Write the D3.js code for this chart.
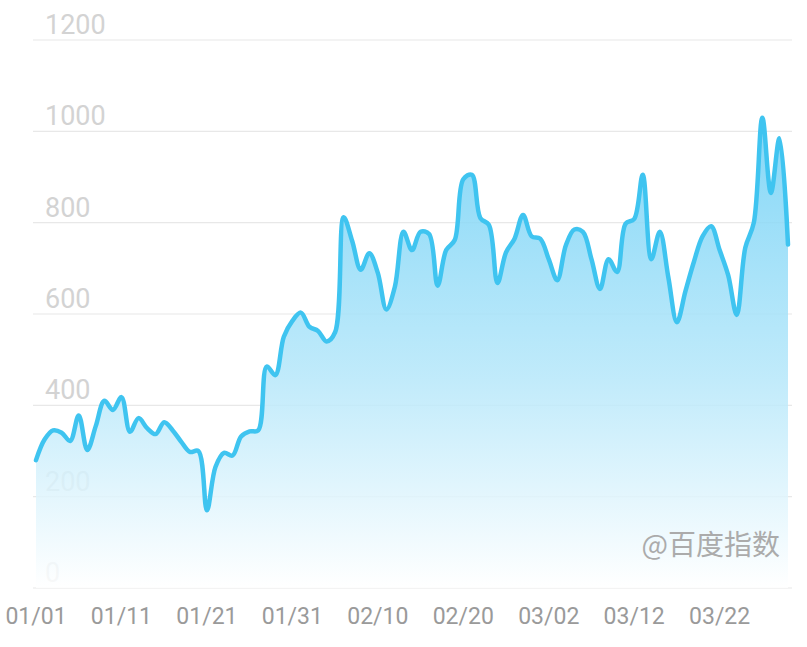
<!DOCTYPE html>
<html>
<head>
<meta charset="utf-8">
<script src="https://cdn.jsdelivr.net/npm/d3@7"></script>
<style>
  body { margin: 0; background: #fff; }
  svg { display: block; font-family: Roboto, "Noto Sans", sans-serif; }
</style>
</head>
<body>
<div id="main"></div>
<script>
const width = 807, height = 647;

// data: one value per day, 01/01 .. 03/30
const startDate = new Date(2021, 0, 1);
const values = [
  280, 325, 345, 340, 322, 378, 302, 355, 410, 390,
  418, 342, 372, 350, 337, 363, 345, 320, 298, 300,
  170, 265, 296, 290, 332, 343, 345, 485, 466, 550,
  585, 603, 572, 563, 540, 560, 812, 760, 697, 733,
  690, 610, 660, 780, 740, 780, 775, 662, 740, 762,
  895, 905, 810, 795, 668, 735, 765, 817, 770, 765,
  720, 674, 750, 785, 780, 720, 655, 720, 692, 798,
  808, 905, 720, 780, 680, 582, 650, 715, 770, 792,
  740, 685, 598, 745, 800, 1030, 865, 985, 752
];
const yTicks = [0, 200, 400, 600, 800, 1000, 1200];
const xTickLabels = ["01/01", "01/11", "01/21", "01/31", "02/10", "02/20", "03/02", "03/12", "03/22"];

const data = values.map((v, i) => ({ date: d3.timeDay.offset(startDate, i), value: v }));

const x = d3.scaleTime()
  .domain([startDate, d3.timeDay.offset(startDate, values.length - 1)])
  .range([36, 788]);
const y = d3.scaleLinear().domain([0, 1200]).range([588, 40]);

const svg = d3.select("#main").append("svg")
  .attr("width", width)
  .attr("height", height);

const defs = svg.append("defs");
const grad = defs.append("linearGradient")
  .attr("id", "areaGrad")
  .attr("x1", 0).attr("y1", 0).attr("x2", 0).attr("y2", 1);
grad.append("stop").attr("offset", "0%").attr("stop-color", "#6fd0f5");
grad.append("stop").attr("offset", "55%").attr("stop-color", "#b5e7fa");
grad.append("stop").attr("offset", "100%").attr("stop-color", "#ffffff");

// grid lines
svg.append("g").selectAll("line")
  .data(yTicks)
  .join("line")
  .attr("x1", 33).attr("x2", 792)
  .attr("y1", d => y(d)).attr("y2", d => y(d))
  .attr("stroke", "#e8e8e8")
  .attr("stroke-width", 1.2);

// y labels
svg.append("g").selectAll("text")
  .data(yTicks)
  .join("text")
  .attr("x", 45)
  .attr("y", d => y(d) - 6)
  .attr("fill", "#d3d3d3")
  .attr("font-size", 27)
  .text(d => d);

// area + line
const area = d3.area()
  .x(d => x(d.date))
  .y0(y(0))
  .y1(d => y(d.value))
  .curve(d3.curveCatmullRom.alpha(0.5));

const line = d3.line()
  .x(d => x(d.date))
  .y(d => y(d.value))
  .curve(d3.curveCatmullRom.alpha(0.5));

svg.append("path")
  .datum(data)
  .attr("d", area)
  .attr("fill", "url(#areaGrad)")
  .attr("fill-opacity", 0.85);

svg.append("path")
  .datum(data)
  .attr("d", line)
  .attr("fill", "none")
  .attr("stroke", "#3fc4f0")
  .attr("stroke-width", 4.5)
  .attr("stroke-linejoin", "round")
  .attr("stroke-linecap", "round");

// x labels
const fmt = d3.timeFormat("%m/%d");
const xTicks = d3.range(0, 90, 10).map(i => d3.timeDay.offset(startDate, i));
svg.append("g").selectAll("text")
  .data(xTicks)
  .join("text")
  .attr("x", d => x(d))
  .attr("y", 624)
  .attr("text-anchor", "middle")
  .attr("fill", "#9a9a9a")
  .attr("font-size", 23)
  .text((d, i) => xTickLabels[i] || fmt(d));

// watermark
svg.append("text")
  .attr("x", 780)
  .attr("y", 555)
  .attr("text-anchor", "end")
  .attr("fill", "#ababab")
  .attr("font-size", 28)
  .attr("font-family", "'Noto Sans CJK SC', sans-serif")
  .text("@百度指数");
</script>
</body>
</html>
